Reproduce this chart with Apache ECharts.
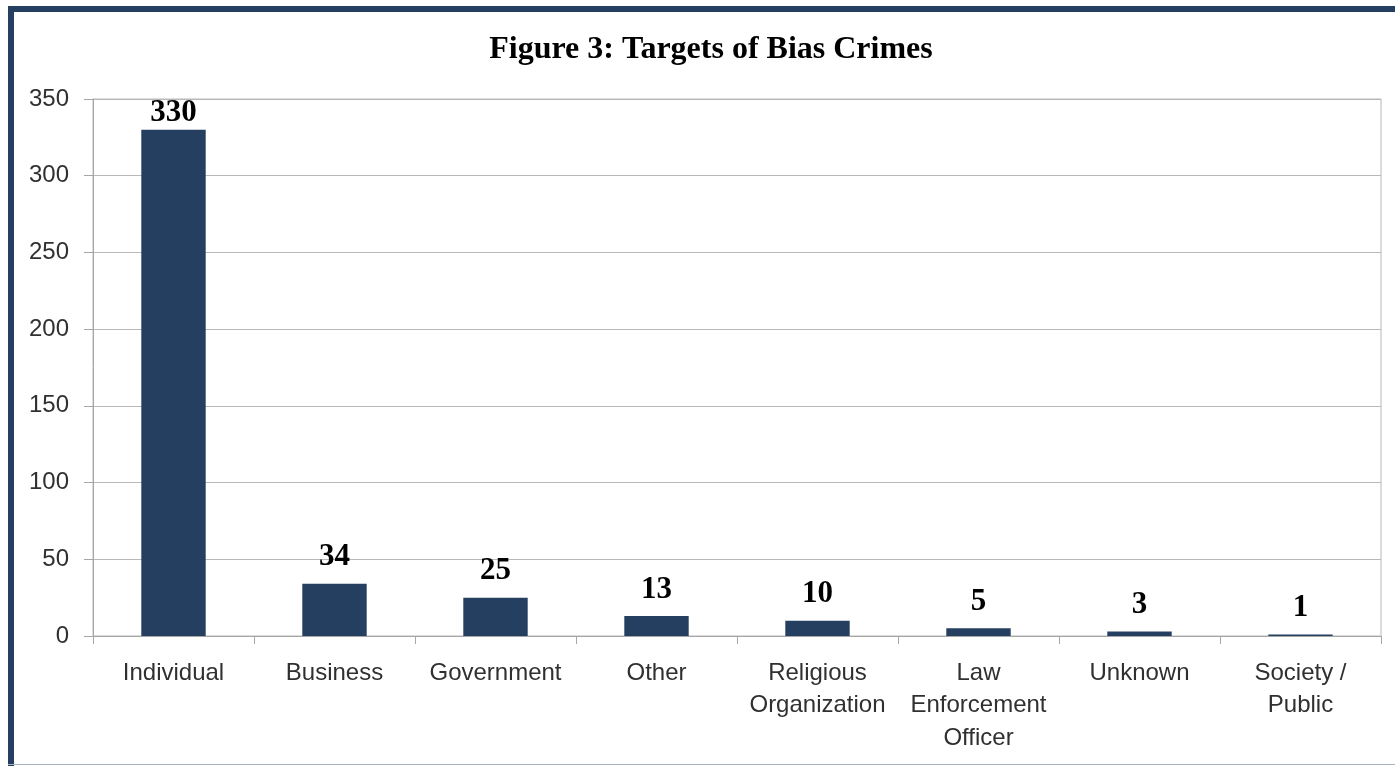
<!DOCTYPE html>
<html>
<head>
<meta charset="utf-8">
<script src="https://cdn.jsdelivr.net/npm/echarts@6/dist/echarts.min.js"></script>
<style>
  html, body { margin: 0; padding: 0; background: #fff; }
  #chart { position: absolute; left: 0; top: 0; width: 1395px; height: 766px; }
  .bl { position: absolute; left: 8px; top: 6px; width: 6px; height: 760px; background: #243F60; }
  .bt { position: absolute; left: 8px; top: 6px; width: 1387px; height: 6px; background: #243F60; }
  .bb { position: absolute; left: 8px; top: 764px; width: 1387px; height: 1px; background: #a9b4c2; }
</style>
</head>
<body>
<div id="chart"></div>
<div class="bl"></div>
<div class="bt"></div>
<div class="bb"></div>
<script>
const titleText = 'Figure 3: Targets of Bias Crimes';
const categories = ['Individual', 'Business', 'Government', 'Other', 'Religious\nOrganization', 'Law\nEnforcement\nOfficer', 'Unknown', 'Society /\nPublic'];
const values = [330, 34, 25, 13, 10, 5, 3, 1];
const yTicks = { min: 0, max: 350, interval: 50 };

// labels that would overflow the plot top sit closer to their bar (as in the source)
const barData = values.map(v => (v > yTicks.max * 0.9)
  ? { value: v, label: { distance: 1 } }
  : v);

const chart = echarts.init(document.getElementById('chart'), null, { renderer: 'canvas' });
chart.setOption({
  animation: false,
  backgroundColor: '#ffffff',
  title: {
    text: titleText,
    left: 706,
    textAlign: 'center',
    top: 29,
    textStyle: { fontFamily: 'Liberation Serif', fontWeight: 'bold', fontSize: 32, color: '#000' }
  },
  grid: {
    left: 93, right: 14, top: 99, bottom: 130,
    show: true, borderColor: '#b8b8b8', borderWidth: 1
  },
  xAxis: {
    type: 'category',
    data: categories,
    axisLine: { show: true, lineStyle: { color: '#a6a6a6', width: 1 } },
    axisTick: { show: true, length: 8, alignWithLabel: false, lineStyle: { color: '#a6a6a6' } },
    axisLabel: {
      interval: 0, margin: 21,
      fontFamily: 'Liberation Sans', fontSize: 24, color: '#303030', lineHeight: 32.5
    },
    splitLine: { show: false }
  },
  yAxis: {
    type: 'value',
    min: yTicks.min, max: yTicks.max, interval: yTicks.interval,
    axisLine: { show: true, lineStyle: { color: '#a6a6a6', width: 1 } },
    axisTick: { show: true, length: 9, lineStyle: { color: '#a6a6a6' } },
    axisLabel: { margin: 24, fontFamily: 'Liberation Sans', fontSize: 24, color: '#303030' },
    splitLine: { show: true, lineStyle: { color: '#b8b8b8', width: 1 } }
  },
  series: [{
    type: 'bar',
    data: barData,
    barWidth: '40%',
    itemStyle: { color: '#243F60' },
    label: {
      show: true, position: 'top', distance: 11,
      fontFamily: 'Liberation Serif', fontWeight: 'bold', fontSize: 31, color: '#000'
    }
  }]
});
</script>
</body>
</html>
